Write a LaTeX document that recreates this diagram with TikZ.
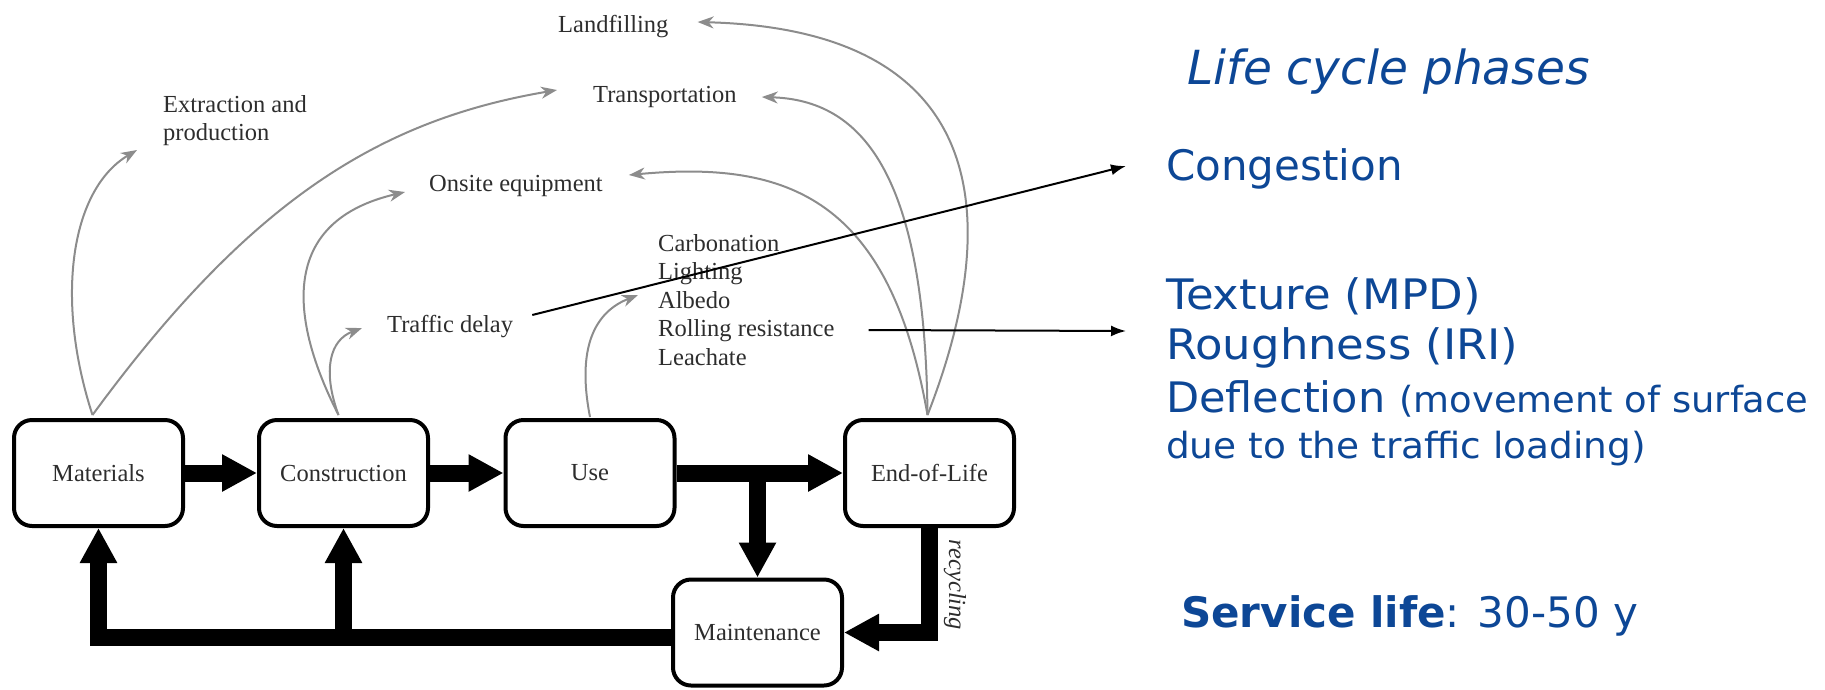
\documentclass[tikz,border=0pt]{standalone}
\usepackage{fontspec}
\setmainfont{Liberation Serif}
\newfontfamily\slidefont{DejaVu Sans}
\newfontfamily\slidewide[FakeStretch=1.07]{DejaVu Sans}
\newfontfamily\slidemid[FakeStretch=1.04]{DejaVu Sans}
\newfontfamily\slidelight[FakeStretch=1.025]{DejaVu Sans}
\usetikzlibrary{arrows.meta}
\definecolor{slideblue}{RGB}{13,71,150}
\definecolor{linkgrey}{RGB}{140,140,140}
\definecolor{labelink}{RGB}{45,45,45}

\begin{document}
\begin{tikzpicture}[x=1pt,y=-1pt,
  phase/.style={draw=black, line width=4pt, rounded corners=18pt,
    minimum width=169pt, minimum height=106pt, inner sep=0pt,
    text=labelink, font=\fontsize{24.5}{28}\selectfont},
  flow/.style={line width=17pt, -{Triangle[length=35pt,width=35pt]}, line join=miter},
  impact/.style={draw=linkgrey, line width=2pt, -{Stealth[length=16pt,width=12pt,inset=5pt]}},
  lbl/.style={anchor=base west, inner sep=0pt, text=labelink, font=\fontsize{24.5}{28}\selectfont},
  pointer/.style={draw=black, line width=2pt, -{Latex[length=15pt,width=11pt]}},
  slide/.style={anchor=base west, inner sep=0pt, text=slideblue, font=\slidefont\fontsize{42}{50}\selectfont},
]
\useasboundingbox (0,0) rectangle (1825,689);

% life-cycle stages
\node[phase] (mat) at (98.5,473) {Materials};
\node[phase] (con) at (343.5,473) {Construction};
\node[phase] (use) at (590,473) {Use};
\node[phase] (eol) at (929.5,473) {End-of-Life};
\node[phase] (mnt) at (757.5,632.5) {Maintenance};
\node[rotate=-90, inner sep=0pt, text=labelink, font=\itshape\fontsize{24.5}{28}\selectfont] (rec) at (955,585) {recycling};

% impact labels
\node[lbl] (land)   at (558,32)  {Landfilling};
\node[lbl] (trans)  at (593,102) {Transportation};
\node[lbl] (ex1)    at (163,112) {Extraction and};
\node[lbl] (ex2)    at (163,140) {production};
\node[lbl] (onsite) at (429,191) {Onsite equipment};
\node[lbl] (td)     at (387,332) {Traffic delay};
\node[lbl] (carb)   at (658,251)   {Carbonation};
\node[lbl] (light)  at (658,279.5) {Lighting};
\node[lbl] (albedo) at (658,308)   {Albedo};
\node[lbl] (roll)   at (658,336.5) {Rolling resistance};
\node[lbl] (leach)  at (658,365)   {Leachate};

% slide text
\node[slide, font=\slidefont\itshape\fontsize{47}{56}\selectfont] (lcp) at (1187,84) {Life cycle phases};
\node[slide] (cong) at (1166,180) {Congestion};
\node[slide, font=\slidewide\fontsize{42}{50}\selectfont] (tex)  at (1166,309) {Texture (MPD)};
\node[slide, font=\slidewide\fontsize{42}{50}\selectfont] (rgh)  at (1166,359) {Roughness (IRI)};
\node[slide, font=\slidelight\fontsize{42}{50}\selectfont] (defl) at (1166,412) {Deflection {\fontsize{36}{44}\selectfont(movement of surface}};
\node[slide, font=\slidemid\fontsize{36}{44}\selectfont] (due) at (1166,458) {due to the traffic loading)};
\node[slide] (svc)  at (1181,627) {\textbf{Service life}: 30-50 y};

% main flow between stages
\draw[flow] (mat.east) -- (con.west);
\draw[flow] (con.east) -- (use.west);
\draw[flow] (use.east) -- (eol.west);
\draw[flow] (use.east -| mnt.north) -- (mnt.north);
\draw[flow] (eol.south) |- (mnt.east);
\coordinate (ret) at ([yshift=-5pt]mnt.west);
\draw[flow] (ret) -| (mat.south);
\draw[flow] (ret -| con.south) -- (con.south);

% origins of the impact arrows
\coordinate (matTop) at ([xshift=-6pt,yshift=3pt]mat.north);
\coordinate (conTop) at ([xshift=-5pt,yshift=3pt]con.north);
\coordinate (useTop) at ([yshift=1pt]use.north);
\coordinate (eolTop) at ([xshift=-2pt,yshift=3pt]eol.north);

% grey impact arrows
\draw[impact] (matTop) .. controls (55,300) and (70,190) .. ([shift={(-26,10)}]ex2.base west);
\draw[impact] (matTop) .. controls (250,200) and (380,120) .. ([shift={(-36,-12)}]trans.base west);
\draw[impact] (conTop) .. controls (285,310) and (285,220) .. ([shift={(-24,1)}]onsite.base west);
\draw[impact] (conTop) .. controls (322,370) and (330,340) .. ([shift={(-25,-4)}]td.base west);
\draw[impact] (useTop) .. controls (575,340) and (600,310) .. ([shift={(-20,-13)}]albedo.base west);
\draw[impact] (eolTop) .. controls (890,200) and (790,160) .. ([shift={(26,-16)}]onsite.base east);
\draw[impact] (eolTop) .. controls (925,170) and (860,100) .. ([shift={(25,-5)}]trans.base east);
\draw[impact] (eolTop) .. controls (1000,230) and (1000,30) .. ([shift={(29,-10)}]land.base east);

% pointers to the slide text
\draw[pointer] ([shift={(19,-17)}]td.base east) -- ([shift={(-40,-14)}]cong.base west);
\draw[pointer] ([shift={(34,-6.5)}]roll.base east) -- ([shift={(-40,22)}]tex.base west);
\end{tikzpicture}
\end{document}
